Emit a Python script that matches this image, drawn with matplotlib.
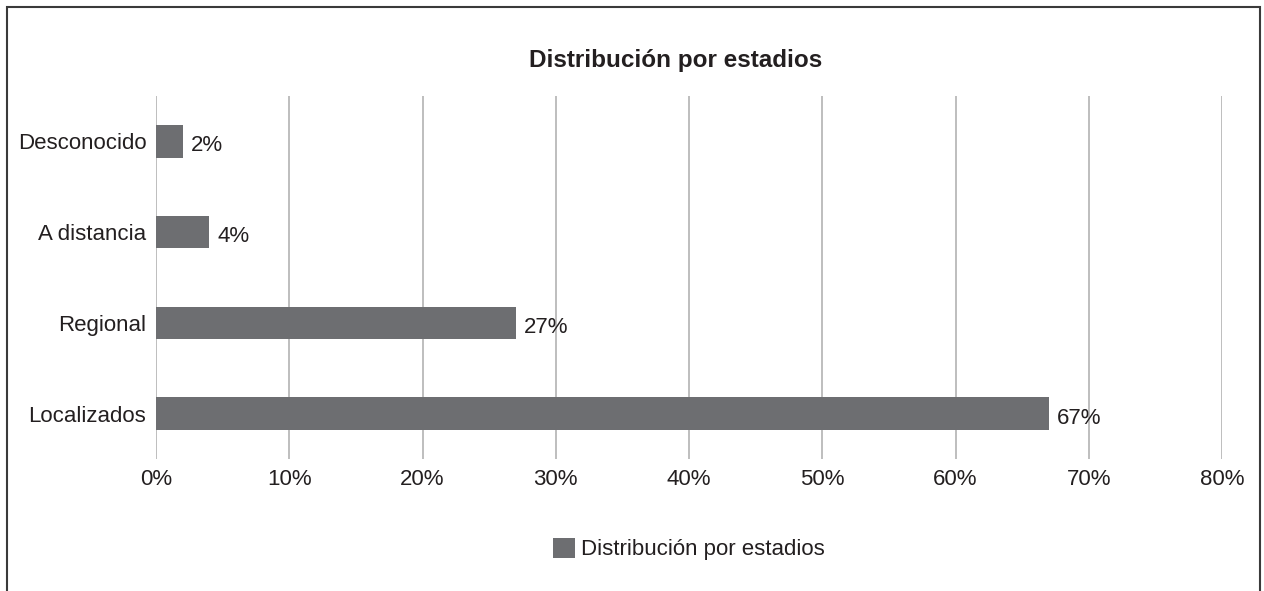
import numpy as np
import matplotlib
matplotlib.use('Agg')
import matplotlib.pyplot as plt
from matplotlib.patches import Rectangle
from matplotlib.ticker import FuncFormatter

categories = ['Localizados', 'Regional', 'A distancia', 'Desconocido']
values = [67, 27, 4, 2]
xticks = [0, 10, 20, 30, 40, 50, 60, 70, 80]
series_name = 'Distribución por estadios'

bar_color = '#6d6e71'
text_color = '#231f20'

plt.rcParams['font.family'] = ['Liberation Sans', 'DejaVu Sans']

fig = plt.figure(figsize=(12.64, 5.91), dpi=100)
ax = fig.add_axes([156 / 1264, 1 - 459 / 591, (1222 - 156) / 1264, 363 / 591])

ypos = np.arange(len(categories))
ax.barh(ypos, values, height=0.36, color=bar_color, zorder=3, label=series_name)
for y, v in zip(ypos, values):
    ax.text(v + 0.6, y - 0.05, f'{v}%', va='center', ha='left',
            fontsize=16, color=text_color, zorder=4)

ax.set_xlim(0, 80)
ax.set_ylim(-0.5, len(categories) - 0.5)
ax.set_xticks(xticks)
ax.xaxis.set_major_formatter(FuncFormatter(lambda x, _: f'{int(x)}%'))
ax.set_yticks(ypos)
ax.set_yticklabels(categories)
ax.tick_params(axis='both', length=0, labelsize=16, colors=text_color)
ax.tick_params(axis='x', pad=7)
ax.tick_params(axis='y', pad=7)
ax.grid(True, axis='x', color='#b3b3b3', linewidth=1.2, zorder=0)
for s in ax.spines.values():
    s.set_visible(False)

fig.text(676 / 1264, 1 - 60 / 591, series_name, ha='center', va='center',
         fontsize=17.5, fontweight='bold', color=text_color)

leg = fig.legend(loc='center', bbox_to_anchor=(0.545, 1 - 549 / 591),
                 frameon=False, fontsize=16, handlelength=1.0,
                 handleheight=1.0, handletextpad=0.3)
for t in leg.get_texts():
    t.set_color(text_color)

# outer frame (bottom edge lies beyond the image)
fig.patches.append(Rectangle((7 / 1264, -0.05), (1260 - 7) / 1264, 1.05 - 7 / 591,
                             transform=fig.transFigure, fill=False,
                             edgecolor='#3a3a3a', linewidth=1.5))

fig.savefig('out.png', dpi=100)
